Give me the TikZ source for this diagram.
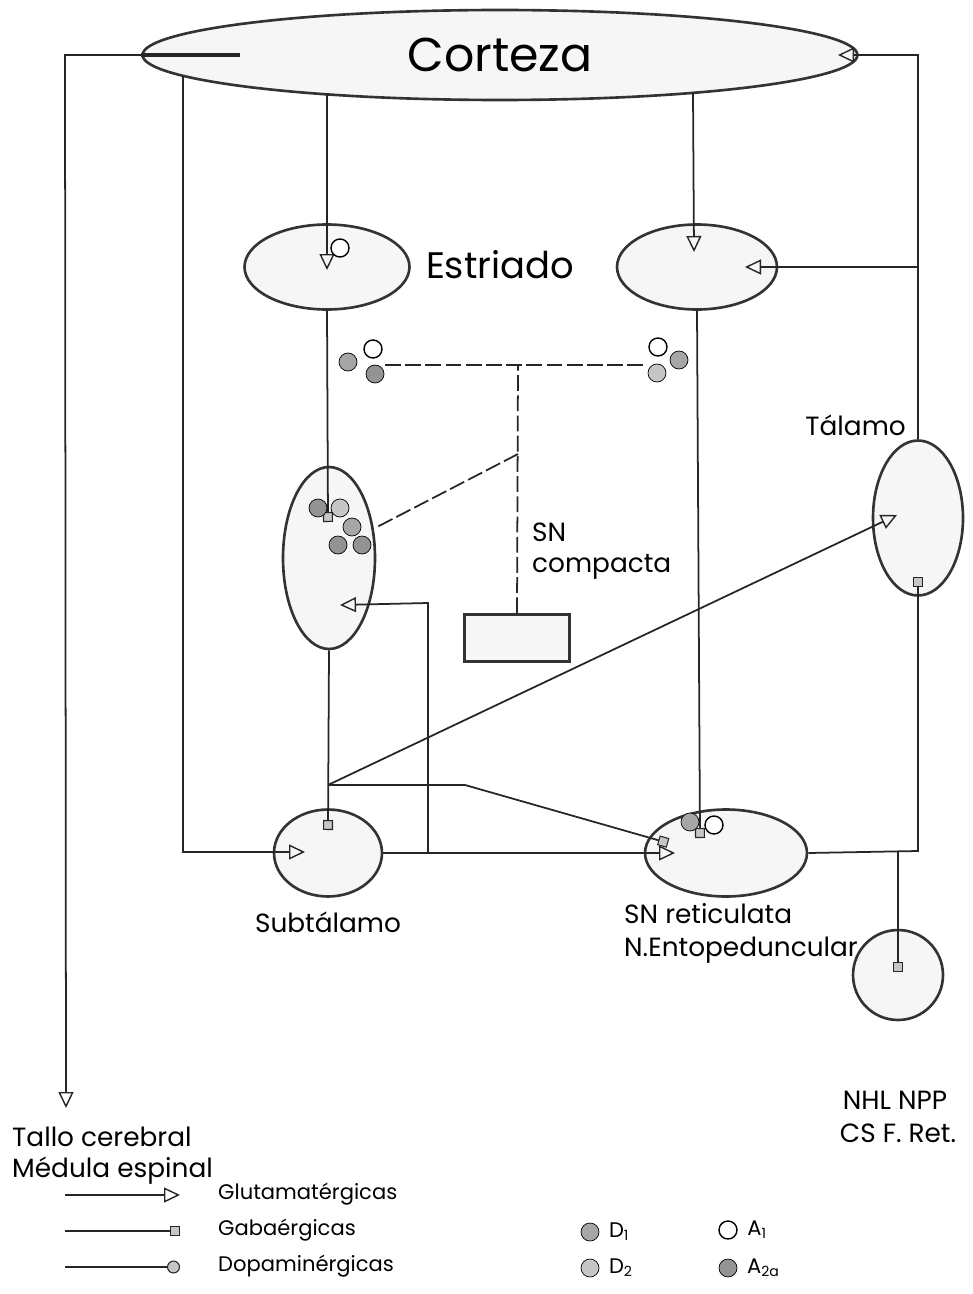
\documentclass[tikz,border=0pt]{standalone}
\usepackage{fontspec}
\setmainfont{Poppins}
\usetikzlibrary{arrows.meta, positioning, shapes.geometric}

\begin{document}
\begin{tikzpicture}[x=0.02cm, y=-0.02cm,
  nucleus/.style={ellipse, draw=black!80, line width=1.5pt, fill=gray!7,
                  inner sep=0pt},
  conn/.style={line width=1pt, draw=black!85},
  glu/.style={conn, -{Triangle[open, length=3.2mm, width=3mm, line width=0.8pt]}},
  gaba/.style={conn, -{Square[length=2mm, width=2mm, fill=gray!45, line width=0.6pt]}},
  dopa/.style={conn, dash pattern=on 9pt off 2.5pt},
  rdone/.style={circle, draw, fill=gray!70, minimum size=0.36cm, inner sep=0pt},
  rdtwo/.style={circle, draw, fill=gray!45, minimum size=0.36cm, inner sep=0pt},
  raone/.style={circle, draw, line width=0.8pt, fill=white, minimum size=0.36cm, inner sep=0pt},
  ratwo/.style={circle, draw, fill=gray!85, minimum size=0.36cm, inner sep=0pt},
  lbl/.style={font=\fontsize{15}{17}\selectfont},
  lgd/.style={font=\fontsize{12}{14}\selectfont, anchor=west}
]
\useasboundingbox (0,0) rectangle (973,1294);
% nuclei
\node[nucleus, font=\fontsize{27}{29}\selectfont, minimum width=14.3cm,
      minimum height=1.8cm] (ctx) at (500,55) {Corteza};
\node[nucleus, minimum width=3.3cm, minimum height=1.7cm] (strl) at (327,267) {};
\node[nucleus, minimum width=3.2cm, minimum height=1.7cm] (strr) at (697,267) {};
\node[font=\fontsize{21}{23}\selectfont] (strlbl) at (500,265) {Estriado};
\node[nucleus, minimum width=1.84cm, minimum height=3.64cm] (gp) at (329,558) {};
\node[nucleus, minimum width=2.16cm, minimum height=1.74cm] (stn) at (328,853) {};
\node[nucleus, minimum width=3.24cm, minimum height=1.74cm] (snr) at (726,853) {};
\node[nucleus, minimum width=1.8cm, minimum height=3.1cm] (thal) at (918,518) {};
\node[nucleus, circle, minimum size=1.8cm] (nhl) at (898,975) {};
\node[rectangle, draw=black!80, line width=1.5pt, fill=gray!7,
      minimum width=2.1cm, minimum height=0.94cm] (snc) at (517,638) {};
% labels
\node[lbl, anchor=west] (snclbl) at (526,532) {SN};
\node[lbl, anchor=west] (snclbl2) at (526,567) {compacta};
\node[lbl, anchor=east] (thallbl) at (912,425) {Tálamo};
\node[lbl] (stnlbl) at (328,922) {Subtálamo};
\node[lbl, anchor=west] (snrlbl) at (618,914) {SN reticulata};
\node[lbl, anchor=west] (snrlbl2) at (618,950) {N.Entopeduncular};
\node[lbl] (nhllbl) at (895,1100) {NHL NPP};
\node[lbl] (nhllbl2) at (898,1133) {CS F. Ret.};
\node[lbl, anchor=west] (tallolbl) at (6,1137) {Tallo cerebral};
\node[lbl, anchor=west] (tallolbl2) at (6,1171) {Médula espinal};
% junctions and end points
\coordinate (tl) at (65,55);
\coordinate (tallo) at (66,1108);
\coordinate (ctxin) at (240,55);
\coordinate (cx1) at (183,76);
\coordinate (cx2) at (327,94);
\coordinate (cx3) at (693,93);
\coordinate (tr) at (918,55);
\coordinate (ctxrin) at (838,55);
\coordinate (tr2) at (918,267);
\coordinate (strlin) at (327,270);
\coordinate (strrin) at (694,252);
\coordinate (strrr) at (745,267);
\coordinate (stnin) at (305,852);
\coordinate (gpsq) at (328,522);
\coordinate (stnsq) at (328,830);
\coordinate (br1) at (328,785);
\coordinate (br2) at (465,785);
\coordinate (thalin) at (897,515);
\coordinate (snrgp) at (668,843);
\coordinate (snrin) at (675,853);
\coordinate (br3) at (428,853);
\coordinate (br4) at (428,603);
\coordinate (gpin) at (340,605);
\coordinate (snrsq) at (700,838);
\coordinate (rj) at (918,851);
\coordinate (rj2) at (898,851);
\coordinate (thalsq) at (918,577);
\coordinate (nhlsq) at (898,972);
\coordinate (dj) at (518,365);
\coordinate (dl) at (385,365);
\coordinate (dr) at (645,365);
\coordinate (dk) at (518,454);
\coordinate (gprec) at (377,527);
% cortical outputs
\draw[glu] (ctx.west) -- (tl) -- (tallo);
\draw[conn, line width=2.2pt] (ctx.west) -- (ctxin);
\draw[glu] (cx1) |- (stnin);
\draw[glu] (cx2) -- (strlin);
\draw[glu] (cx3) -- (strrin);
% thalamic outputs
\draw[glu] (thal.north) -- (tr) -- (ctxrin);
\draw[glu] (tr2) -- (strrr);
% striatal and pallidal outputs
\draw[gaba] (strl.south) -- (gpsq);
\draw[gaba] (gp.south) -- (stnsq);
\draw[gaba] (strr.south) -- (snrsq);
\draw[glu] (br1) -- (thalin);
\draw[gaba] (br1) -- (br2) -- (snrgp);
% subthalamic outputs
\draw[glu] (stn.east) -- (snrin);
\draw[glu] (br3) -- (br4) -- (gpin);
% nigral outputs
\draw[gaba] (snr.east) -- (rj) -- (thalsq);
\draw[gaba] (rj2) -- (nhlsq);
% dopamine
\draw[dopa] (snc.north) -- (dj);
\draw[dopa] (dl) -- (dr);
\draw[dopa] (dk) -- (gprec);
% receptors
\node[raone] (rs1) at (340,248) {};
\node[rdone] (rl1) at (348,362) {};
\node[raone] (rl2) at (373,349) {};
\node[ratwo] (rl3) at (375,374) {};
\node[raone] (rr1) at (658,347) {};
\node[rdone] (rr2) at (679,360) {};
\node[rdtwo] (rr3) at (657,373) {};
\node[ratwo] (rg1) at (318,508) {};
\node[rdtwo] (rg2) at (340,508) {};
\node[rdone] (rg3) at (352,527) {};
\node[ratwo] (rg4) at (338,545) {};
\node[ratwo] (rg5) at (362,545) {};
\node[rdone] (rn1) at (690,822) {};
\node[raone] (rn2) at (714,825) {};
% legend
\coordinate (lg1a) at (65,1195);
\coordinate (lg1b) at (180,1195);
\coordinate (lg2a) at (65,1231);
\coordinate (lg2b) at (180,1231);
\coordinate (lg3a) at (65,1267);
\coordinate (lg3b) at (180,1267);
\draw[glu] (lg1a) -- (lg1b);
\draw[gaba] (lg2a) -- (lg2b);
\draw[conn, -{Circle[length=2.6mm, fill=gray!45, line width=0.6pt]}] (lg3a) -- (lg3b);
\node[lgd] (lgglu) at (212,1194) {Glutamatérgicas};
\node[lgd] (lggaba) at (212,1230) {Gabaérgicas};
\node[lgd] (lgdopa) at (212,1266) {Dopaminérgicas};
\node[rdone] (lgd1) at (590,1232) {};
\node[lgd, right=2pt of lgd1] (lgd1t) {D\textsubscript{1}};
\node[rdtwo] (lgd2) at (590,1268) {};
\node[lgd, right=2pt of lgd2] (lgd2t) {D\textsubscript{2}};
\node[raone] (lga1) at (728,1230) {};
\node[lgd, right=2pt of lga1] (lga1t) {A\textsubscript{1}};
\node[ratwo] (lga2) at (728,1268) {};
\node[lgd, right=2pt of lga2] (lga2t) {A\textsubscript{2a}};
\end{tikzpicture}
\end{document}
